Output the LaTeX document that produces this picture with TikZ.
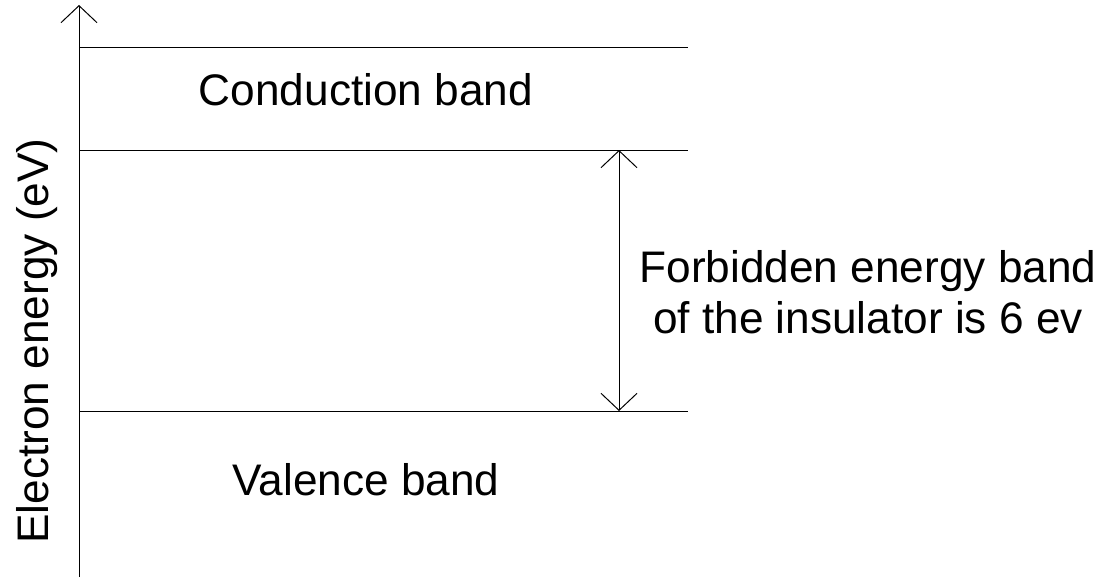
\documentclass[tikz,border=0pt]{standalone}
\usepackage{fontspec}
\setmainfont{Liberation Sans}
\usetikzlibrary{arrows.meta}
\tikzset{
  band/.style={line width=1pt},
  tip/.style={-{Straight Barb[length=17pt,width=36pt]}},
  dtip/.style={{Straight Barb[length=17pt,width=36pt]}-{Straight Barb[length=17pt,width=36pt]}},
  lbl/.style={font=\fontsize{44.2}{52}\selectfont, inner sep=0pt, anchor=base},
}
\begin{document}
\begin{tikzpicture}[x=1pt,y=-1pt]
\useasboundingbox (0,0) rectangle (1110,578);
\coordinate (axb) at (79,577);
\coordinate (axt) at (79,5);
\coordinate (c1) at (79,48);  \coordinate (c2) at (688,48);
\coordinate (f1) at (79,150); \coordinate (f2) at (688,150);
\coordinate (v1) at (79,411); \coordinate (v2) at (688,411);
\coordinate (g1) at (619,150); \coordinate (g2) at (619,411);
\draw[band,tip] (axb) -- (axt);
\draw[band] (c1) -- (c2);
\draw[band] (f1) -- (f2);
\draw[band] (v1) -- (v2);
\draw[band,dtip] (g1) -- (g2);
\node[lbl] (cond) at (366,105.5) {Conduction band};
\node[lbl] (val) at (366,495) {Valence band};
\node[lbl] (gap1) at (868,282) {Forbidden energy band};
\node[lbl] (gap2) at (868,333.5) {of the insulator is 6 ev};
\node[lbl, rotate=90] (axis) at (48.3,341) {Electron energy (eV)};
\end{tikzpicture}
\end{document}
